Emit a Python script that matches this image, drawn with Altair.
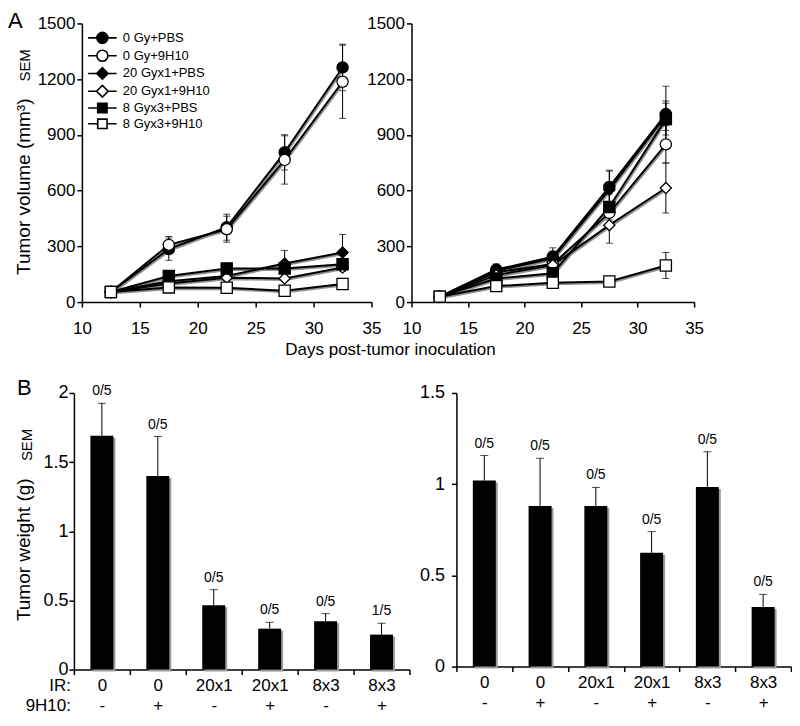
import altair as alt
import pandas as pd

FONT = "Liberation Sans"

# ---------------- data ----------------
series = ["0 Gy+PBS", "0 Gy+9H10", "20 Gyx1+PBS", "20 Gyx1+9H10", "8 Gyx3+PBS", "8 Gyx3+9H10"]
days = [12.5, 17.5, 22.5, 27.5, 32.5]

left_vol = [
    [54, 285, 403, 806, 1263],
    [54, 308, 392, 765, 1186],
    [54, 112, 140, 208, 267],
    [54, 100, 131, 127, 186],
    [54, 140, 181, 181, 204],
    [54, 79, 77, 61, 97],
]
left_sem = [
    [0, 60, 70, 95, 125],
    [0, 45, 70, 130, 197],
    [0, 15, 20, 70, 97],
    [0, 10, 15, 15, 20],
    [0, 15, 25, 20, 25],
    [0, 8, 10, 8, 10],
]
right_vol = [
    [29, 175, 244, 620, 1012],
    [29, 160, 205, 480, 849],
    [29, 168, 235, 605, 1003],
    [29, 145, 199, 414, 614],
    [29, 127, 155, 512, 985],
    [29, 86, 104, 111, 197],
]
right_sem = [
    [0, 30, 48, 90, 150],
    [0, 20, 30, 60, 100],
    [0, 25, 40, 100, 80],
    [0, 20, 30, 97, 135],
    [0, 15, 25, 70, 85],
    [0, 10, 12, 15, 70],
]

ir_dose = ["0", "0", "20x1", "20x1", "8x3", "8x3"]
antibody = ["-", "+", "-", "+", "-", "+"]
left_weight = [1.69, 1.40, 0.465, 0.296, 0.349, 0.253]
left_weight_sem = [0.235, 0.285, 0.113, 0.046, 0.056, 0.082]
left_incidence = ["0/5", "0/5", "0/5", "0/5", "0/5", "1/5"]
right_weight = [1.02, 0.88, 0.88, 0.624, 0.985, 0.327]
right_weight_sem = [0.137, 0.262, 0.102, 0.116, 0.193, 0.069]
right_incidence = ["0/5", "0/5", "0/5", "0/5", "0/5", "0/5"]

vol_ticks = [0, 300, 600, 900, 1200, 1500]
day_ticks = [10, 15, 20, 25, 30, 35]

# ---------------- styles ----------------
shapes = ["circle", "circle", "diamond", "diamond", "square", "square"]
fills = ["black", "white", "black", "white", "black", "white"]
sizes = [125, 125, 150, 150, 105, 105]

circ = "M-1,0A1,1,0,1,1,1,0A1,1,0,1,1,-1,0Z"
diam = "M-1.05,0L0,-1.05L1.05,0L0,1.05Z"
sq = "M-0.85,-0.85L0.85,-0.85L0.85,0.85L-0.85,0.85Z"
stub = "M-2.6,0L-1,0M1,0L2.6,0"
stub_sq = "M-2.6,0L-0.85,0M0.85,0L2.6,0"
legend_paths = [stub + circ, stub + circ, stub + diam, stub + diam, stub_sq + sq, stub_sq + sq]


def growth_df(vol, sem):
    rows = []
    for s, vs, es in zip(series, vol, sem):
        for d, v, e in zip(days, vs, es):
            rows.append({"series": s, "marker": s, "day": d, "vol": v,
                         "sem": e, "lo": v - e, "hi": v + e})
    return pd.DataFrame(rows)


def text_chart(txt, x, y, **kw):
    return alt.Chart(pd.DataFrame({"t": [txt]})).mark_text(font=FONT, color="black", **kw).encode(
        x=alt.value(x), y=alt.value(y), text="t:N")


def growth_panel(vol, sem, first, w, h, lead):
    df = growth_df(vol, sem)
    xs = alt.Scale(domain=[10, 35], nice=False, zero=False, range=[lead, w])
    ys = alt.Scale(domain=[0, 1500], nice=False)
    xax = alt.Axis(values=day_ticks, title=None, labelPadding=13, labelFlush=False, labelOverlap=False)
    if first:
        yax = alt.Axis(values=vol_ticks, title="Tumor volume (mm³)", titleX=-48, titleY=163,
                       titleFontSize=19, labelPadding=2, format="d", labelFlush=False, offset=-lead)
    else:
        yax = alt.Axis(values=vol_ticks, title=None, labelPadding=2, format="d", labelFlush=False,
                       offset=-lead)
    base = alt.Chart(df)
    x = alt.X("day:Q", scale=xs, axis=xax)
    shadow = base.mark_line(color="#909090", strokeWidth=2, xOffset=1, yOffset=1.5).encode(
        x=x, y=alt.Y("vol:Q", scale=ys, axis=yax), detail="series:N")
    lines = base.mark_line(color="black", strokeWidth=2).encode(
        x=x, y=alt.Y("vol:Q"), detail="series:N")
    eb = base.transform_filter("datum.sem > 0")
    err = eb.mark_rule(color="black", strokeWidth=1).encode(x=x, y="lo:Q", y2="hi:Q")
    cap_hi = eb.mark_tick(color="black", orient="horizontal", size=7, thickness=1).encode(x=x, y="hi:Q")
    cap_lo = eb.mark_tick(color="black", orient="horizontal", size=7, thickness=1).encode(x=x, y="lo:Q")
    pts = base.mark_point(filled=True, stroke="black", strokeWidth=1.3, opacity=1).encode(
        x=x, y="vol:Q",
        shape=alt.Shape("series:N", scale=alt.Scale(domain=series, range=shapes), legend=None),
        fill=alt.Fill("series:N", scale=alt.Scale(domain=series, range=fills), legend=None),
        size=alt.Size("series:N", scale=alt.Scale(domain=series, range=sizes), legend=None),
    )
    layers = [shadow, lines, err, cap_hi, cap_lo, pts]
    if first:
        leg = alt.Legend(title=None, orient="none", legendX=lead + 14, legendY=8, labelFontSize=13,
                         labelFont=FONT, labelColor="black", labelOffset=14, rowPadding=-1.2,
                         symbolStrokeWidth=1.6, symbolSize=121)
        legend_layer = base.transform_filter("datum.day < 0").mark_point(
            filled=True, strokeWidth=1.6, opacity=1, size=121).encode(
            x=x, y="vol:Q",
            shape=alt.Shape("marker:N", scale=alt.Scale(domain=series, range=legend_paths), legend=leg),
            fill=alt.Fill("marker:N", scale=alt.Scale(domain=series, range=fills), legend=leg),
            stroke=alt.Stroke("marker:N", scale=alt.Scale(domain=series, range=["black"] * 6), legend=leg),
        )
        layers.append(legend_layer)
        layers.append(text_chart("A", -66, 5, fontSize=22, align="left", baseline="alphabetic"))
        layers.append(text_chart("SEM", -49, 42, fontSize=15, angle=270, align="center", baseline="middle"))
        layers.append(text_chart("Days post-tumor inoculation", 317, 327, fontSize=17,
                                 align="center", baseline="middle"))
        anchor = alt.Chart(pd.DataFrame({"t": [0]})).mark_rule(opacity=0, strokeWidth=0).encode(
            x=alt.value(-66), x2=alt.value(-66), y=alt.value(-15), y2=alt.value(-15))
        layers.append(anchor)
    ch = alt.layer(*layers).resolve_scale(shape="independent", fill="independent",
                                          stroke="independent")
    return ch.properties(width=w, height=h)


def bar_panel(weights, errs, incid, ymax, yvals, first, lpad, w, h, lead, span):
    cats = [f"{a}|{b}" for a, b in zip(ir_dose, antibody)]
    df = pd.DataFrame({"cat": cats, "w": weights, "e": errs, "n": incid})
    df["hi"] = df["w"] + df["e"]
    xs = alt.Scale(domain=cats, range=[lead, lead + span], paddingInner=0, paddingOuter=0)
    xax = alt.Axis(title=None, labelExpr="split(datum.label, '|')", tickBand="extent",
                   labelLineHeight=20, labelPadding=3, labelAngle=0, labelFontSize=17)
    ys = alt.Scale(domain=[0, ymax], nice=False)
    if first:
        yax = alt.Axis(values=yvals, title="Tumor weight (g)", titleX=-40, titleY=156.5,
                       titleFontSize=19, labelPadding=lpad, format="~g", labelFontSize=18,
                       offset=-lead)
    else:
        yax = alt.Axis(values=yvals, title=None, labelPadding=lpad, format="~g", labelFontSize=18,
                       offset=-lead)
    base = alt.Chart(df)
    x = alt.X("cat:N", scale=xs, axis=xax, sort=cats)
    shadow = base.mark_bar(size=23, color="#9a9a9a", xOffset=2, yOffset=2).encode(
        x=x, y=alt.Y("w:Q", scale=ys, axis=yax))
    bars = base.mark_bar(size=23, color="black").encode(x=x, y="w:Q")
    err = base.mark_rule(color="black", strokeWidth=1).encode(x=x, y="w:Q", y2="hi:Q")
    cap = base.mark_tick(color="black", orient="horizontal", size=8, thickness=1).encode(x=x, y="hi:Q")
    lab = base.mark_text(font=FONT, fontSize=14, color="black", baseline="bottom", dy=-5).encode(
        x=x, y="hi:Q", text="n:N")
    layers = [shadow, bars, err, cap, lab]
    if first:
        layers.append(text_chart("B", -57, 2, fontSize=22, align="left", baseline="alphabetic"))
        layers.append(text_chart("SEM", -47, 52, fontSize=15, angle=270, align="center", baseline="middle"))
        layers.append(text_chart("IR:", -3, h + 16, fontSize=17, align="right", baseline="middle"))
        layers.append(text_chart("9H10:", -3, h + 36, fontSize=17, align="right", baseline="middle"))
    return alt.layer(*layers).properties(width=w, height=h)


tl = growth_panel(left_vol, left_sem, True, 298, 279, 8)
tr = growth_panel(right_vol, right_sem, False, 283, 279, 0)
bl = bar_panel(left_weight, left_weight_sem, left_incidence, 2, [0, 0.5, 1, 1.5, 2], True, 1,
               298, 277, 0, 336)
br = bar_panel(right_weight, right_weight_sem, right_incidence, 1.5, [0, 0.5, 1, 1.5], False, 7,
               380, 274, 45, 335)

chart = alt.concat(tl, tr, bl, br, columns=2, align="none", bounds="flush",
                   spacing={"row": 91, "column": 40}).properties(
    padding=0, background="white"
).configure(font=FONT).configure_view(stroke=None).configure_axis(
    domainColor="black", domainWidth=1.5, tickColor="black", tickWidth=1.5, tickSize=5,
    labelColor="black", labelFontSize=17, labelFont=FONT, titleFont=FONT, titleColor="black",
    titleFontSize=18, titleFontWeight="normal", grid=False
)

chart.save("out.html", embed_options={"renderer": "svg", "actions": False})
